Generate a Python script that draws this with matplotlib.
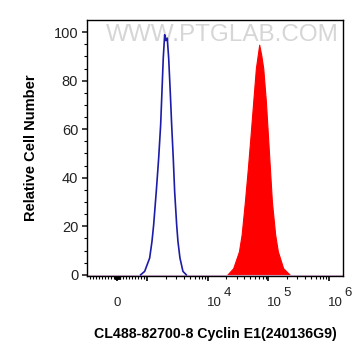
import numpy as np
import matplotlib
matplotlib.use("Agg")
import matplotlib.pyplot as plt
import matplotlib.transforms as mtransforms

plt.rcParams['font.family'] = ['Liberation Sans', 'DejaVu Sans']

# Control (blue) histogram: fluorescence intensity and relative count
blue_x = [775, 907, 1086, 1186, 1265, 1397, 1530, 1651, 1735, 1823, 1923, 2020, 2123,
          2240, 2378, 2510, 2668, 2813, 3036, 3190, 3443, 3857, 4375]
blue_y = [0, 1.4, 6.9, 13.7, 20.6, 34.3, 48, 61.8, 75.5, 89.3, 98.9, 96.5, 97.5,
          89.3, 75.5, 61.8, 48, 34.3, 20.6, 13.7, 6.9, 1.4, 0]

# Stained (red) histogram
red_x = [20800, 26100, 32500, 36000, 40800, 45700, 50700, 56000, 62000, 70300, 75900,
         81900, 90700, 97900, 105600, 114000, 129200, 143200, 175200, 225800]
red_y = [0, 2.7, 9.6, 16.5, 30.2, 44, 57.7, 71.4, 85.2, 94.8, 90.6,
         85.2, 71.4, 57.7, 44, 30.2, 16.5, 9.6, 2.7, 0]

xlabel = "CL488-82700-8 Cyclin E1(240136G9)"
ylabel = "Relative Cell Number"
yticks = [0, 20, 40, 60, 80, 100]
decades = [4, 5, 6]

fig = plt.figure(figsize=(3.64, 3.63), dpi=100)
ax = fig.add_axes([0.239, 0.2397, 0.703, 0.7053])

ax.fill_between(red_x, red_y, 0, color='#ff0000', linewidth=0.8, edgecolor='#ff0000')
ax.plot(blue_x, blue_y, color='#1c1ca8', linewidth=1.2)
ax.axhline(0, color='#d8b8d8', linewidth=0.8, zorder=1)

ax.set_xscale('symlog', linthresh=1000, linscale=0.45)
ax.set_xlim(-1000, 1.7e6)
ax.set_ylim(-0.5, 105)

# x ticks
major = [0, 1000, 1e4, 1e5, 1e6]
ax.set_xticks(major)
ax.set_xticklabels(['0', '', '', '', ''])
minor = []
for s in (-1, 1):
    for m in (10, 100):
        for k in range(1, 10):
            minor.append(s * k * m)
for m in (1000, 1e4, 1e5):
    for k in range(2, 10):
        minor.append(k * m)
ax.set_xticks(minor, minor=True)
ax.tick_params(axis='x', which='major', length=3.8, width=1.2, direction='out', labelsize=9.5, pad=11)
ax.tick_params(axis='x', which='minor', length=2.4, width=0.8, direction='out')
for lbl in ax.get_xticklabels():
    lbl.set_color('#222222')

trans = mtransforms.blended_transform_factory(ax.transData, ax.transAxes)
for d in decades:
    t1 = trans + mtransforms.ScaledTranslation(-1.0 / 72, -19.5 / 72, fig.dpi_scale_trans)
    ax.text(10 ** d, 0, "10", transform=t1, ha='left', va='center', fontsize=9.5, color='#222222')
    t2 = trans + mtransforms.ScaledTranslation(11 / 72, -12 / 72, fig.dpi_scale_trans)
    ax.text(10 ** d, 0, str(d), transform=t2, ha='left', va='center', fontsize=9.5, color='#222222')

# y ticks
ax.set_yticks(yticks)
ax.set_yticks(np.arange(0, 105, 5), minor=True)
ax.tick_params(axis='y', which='major', length=3.8, width=1.2, direction='out', labelsize=10.5, pad=2.5, colors='#222222')
ax.tick_params(axis='y', which='minor', length=2.4, width=0.8, direction='out')

for sp in ax.spines.values():
    sp.set_linewidth(1.0)
    sp.set_color('black')

ax.set_ylabel(ylabel, fontsize=10.5, fontweight='bold', labelpad=11)
ax.set_xlabel(xlabel, fontsize=10.2, fontweight='bold', labelpad=13)

ax.text(0.53, 0.94, "WWW.PTGLAB.COM", transform=ax.transAxes, ha='center', va='center',
        fontsize=17.5, color='#d6d6d6', zorder=0)

fig.savefig("out.png", dpi=100)
